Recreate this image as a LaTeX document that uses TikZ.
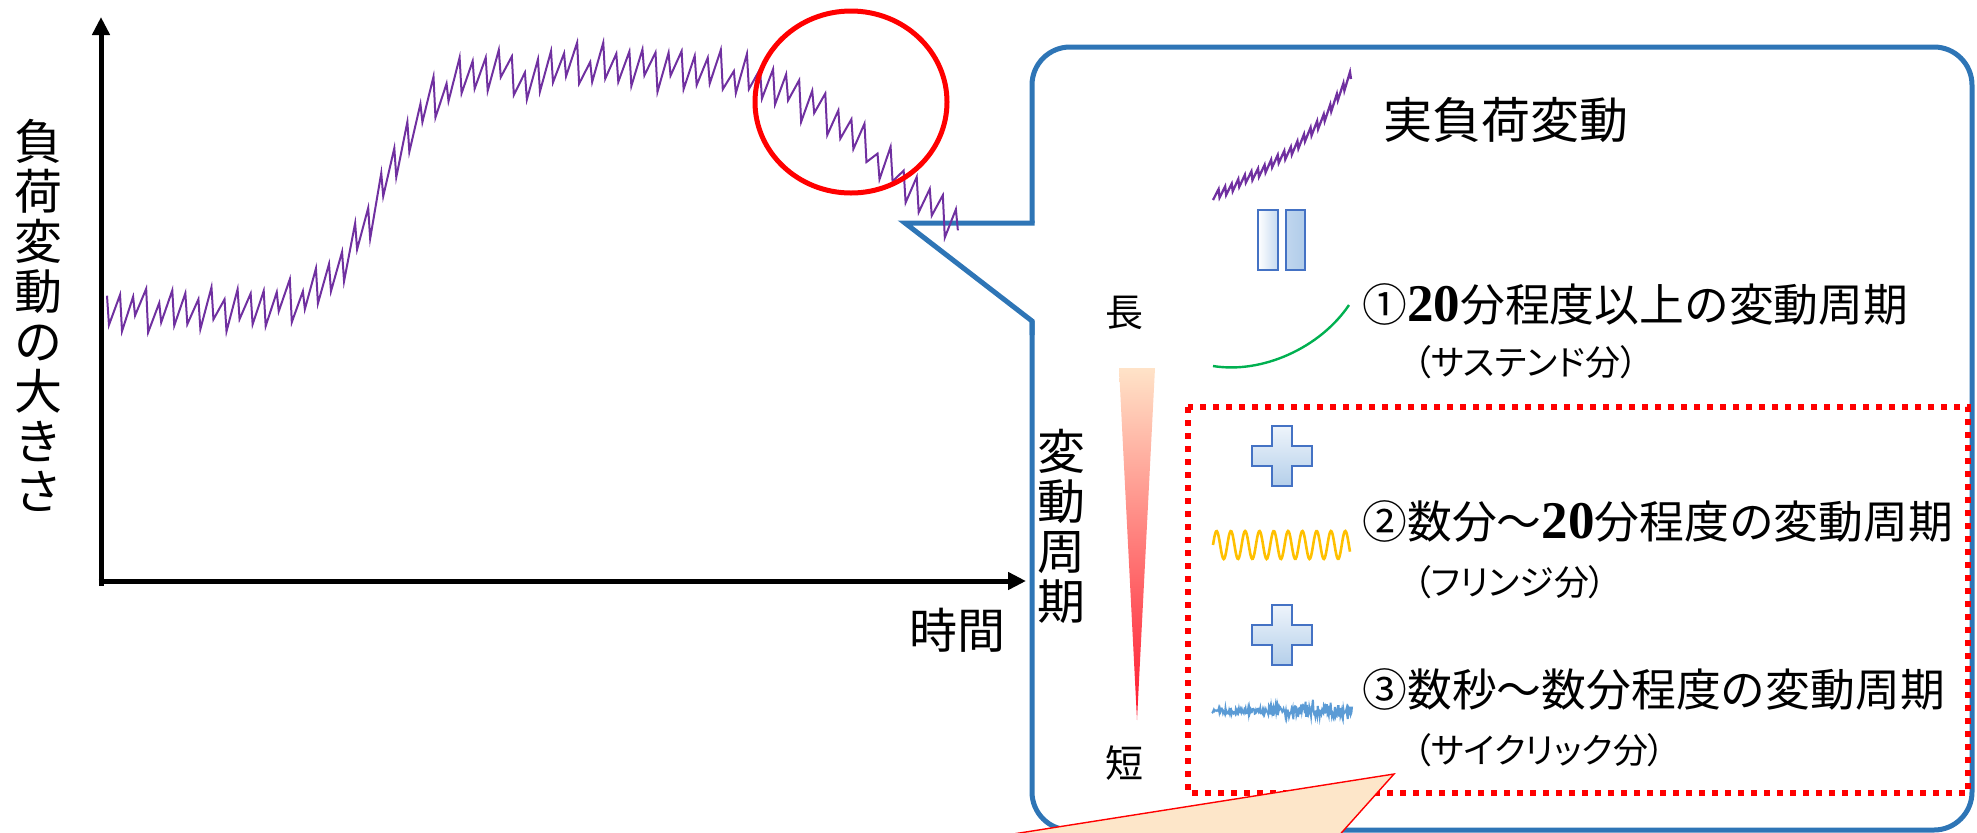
\documentclass[tikz,border=0pt]{standalone}
\usepackage{fontspec}
\setmainfont{Noto Sans CJK JP}
\newfontfamily\numfont{Liberation Serif}
\newfontfamily\jpp{Noto Sans CJK JP}[RawFeature=+palt]
\usetikzlibrary{arrows.meta}
\definecolor{boxblue}{RGB}{46,117,182}
\definecolor{loadpurple}{RGB}{112,48,160}
\definecolor{iconedge}{RGB}{68,114,196}
\definecolor{iconlight}{RGB}{238,244,251}
\definecolor{icondark}{RGB}{180,207,234}
\definecolor{eqa}{RGB}{197,217,240}
\definecolor{eqb}{RGB}{192,214,238}
\definecolor{eqc}{RGB}{176,204,233}
\definecolor{peach}{RGB}{253,230,201}
\definecolor{sustgreen}{RGB}{0,176,80}
\definecolor{fringeyellow}{RGB}{255,192,0}
\definecolor{cyclicblue}{RGB}{91,155,213}
\definecolor{gradtop}{RGB}{255,227,200}
\definecolor{gradmid}{RGB}{255,80,126}
\definecolor{gradbot}{RGB}{255,22,44}
\begin{document}
\begin{tikzpicture}[x=0.5pt,y=-0.5pt,
  declare function={
    sg(\z)=1/(1+exp(-max(min(\z,8),-8)));
    base(\x)=310-245*sg((\x-383)/28)+190*sg((\x-880)/50)+25*exp(-min(((\x-528)/10)*((\x-528)/10),9));
    par(\j)=mod(round(\j),2);
    sgn(\j)=1-2*par(\j);
    xz(\j)=95.9+\j*6.53+4.571*par(\j);
    amz(\j)=15*(0.55+0.75*abs(sin(\j*57.3+20)));
    jit(\j)=5*sin(\j*97.3);
    sxz(\j)=1213+\j*3.285+2.3*par(\j);
    st(\j)=(sxz(\j)-1213)/138;
  },
  axisline/.style={line width=2.5pt,-{Triangle[length=9pt,width=8.5pt]}},
  bluebox/.style={draw=boxblue,line width=2.5pt},
  loadline/.style={draw=loadpurple,line width=1pt,line join=miter},
  iconbox/.style={draw=iconedge,line width=1.2pt},
  vtext/.style={inner sep=0pt,align=center,font=\fontsize{24}{25}\selectfont},
  mainline/.style={inner sep=0pt,anchor=west,font=\fontsize{22.4}{24}\selectfont},
  subline/.style={inner sep=0pt,anchor=west,font=\jpp\fontsize{17.5}{19}\selectfont},
  endlabel/.style={inner sep=0pt,font=\fontsize{19}{20}\selectfont},
]
\useasboundingbox (0,0) rectangle (1977,832);

% callout box
\draw[bluebox,rounded corners=19pt] (1032,223) -- (1032,47) -- (1972,47) -- (1972,830) -- (1032,830) -- (1032,321);
\draw[bluebox,line join=miter] (1034.5,223) -- (905,223) -- (1032,321) -- (1032,335);

% red dotted group
\draw[red,line width=3pt,dash pattern=on 3pt off 3.5pt] (1188,407) rectangle (1968,793);

% peach callout
\fill[peach] (975,840) -- (1394,774) -- (1335,840) -- cycle;
\draw[red,line width=0.7pt] (975,840) -- (1394,774) -- (1335,840);

% axes
\coordinate (ybot) at (101,586);
\coordinate (ytop) at (101,17);
\coordinate (xleft) at (98.5,581);
\coordinate (xright) at (1026,581);
\draw[axisline] (ybot) -- (ytop);
\draw[axisline] (xleft) -- (xright);

% load curve
\draw[loadline] plot[domain=1:132,samples=132,variable=\j] ({xz(\j)},{base(xz(\j))+jit(\j)+amz(\j)*sgn(\j)});

% red circle
\draw[red,line width=2.5pt] (851,102) ellipse [x radius=96,y radius=91];

% labels
\node[vtext] (ylabel) at (38,315) {負\\荷\\変\\動\\の\\大\\き\\さ};
\node[inner sep=0pt,font=\fontsize{24}{25}\selectfont] (xlabel) at (957,630) {時間};
\node[vtext] (periodlabel) at (1061,526) {変\\動\\周\\期};
\node[endlabel] (longlabel) at (1124,313) {長};
\node[endlabel] (shortlabel) at (1124,763) {短};

% gradient wedge
\shade[top color=gradtop,middle color=gradmid,bottom color=gradbot] (1119,368) -- (1155,368) -- (1137,720) -- cycle;

% small actual load icon
\draw[loadline,line width=1.15pt] plot[domain=0:42,samples=43,variable=\j] ({sxz(\j)},{197-123*(0.6*st(\j)+0.4*st(\j)*st(\j)*st(\j)*st(\j))+4*sgn(\j)*(0.75+0.5*abs(sin(\j*71)))});

% equals icon
\shadedraw[iconbox,left color=white,right color=eqa] (1258,210) rectangle (1278,270);
\shadedraw[iconbox,left color=eqb,right color=eqc] (1286,210) rectangle (1305,270);

% plus icons
\foreach \cy in {456,635}{
  \shadedraw[iconbox,top color=iconlight,bottom color=icondark]
    (1272,\cy-30) -- (1292,\cy-30) -- (1292,\cy-10) -- (1312,\cy-10) -- (1312,\cy+10) -- (1292,\cy+10)
    -- (1292,\cy+30) -- (1272,\cy+30) -- (1272,\cy+10) -- (1252,\cy+10) -- (1252,\cy-10) -- (1272,\cy-10) -- cycle;
}

% component curves
\draw[sustgreen,line width=1.2pt] (1213,366) .. controls (1262,374) and (1320,348) .. (1349,305);
\draw[fringeyellow,line width=1.3pt] plot[domain=1213:1350,samples=180] (\x,{545-14*sin(25.17*(\x-1213))});
\pgfmathsetseed{7}
\draw[cyclicblue,line width=1pt] plot[domain=1212:1352,samples=230] (\x,{711+(\x<1268?2.8:6.0)*rand+(\x<1268?0:9)*rand*rand*rand});

% texts
\node[inner sep=0pt,anchor=west,font=\fontsize{24.5}{26}\selectfont] (actual) at (1383,120) {実負荷変動};
\node[mainline] (comp1) at (1362,304) {①{\numfont\bfseries\fontsize{26.5}{26}\selectfont 20}分程度以上の変動周期};
\node[subline] (comp1sub) at (1413,362) {（サステンド分）};
\node[mainline] (comp2) at (1362,521) {②数分～{\numfont\bfseries\fontsize{26.5}{26}\selectfont 20}分程度の変動周期};
\node[subline] (comp2sub) at (1413,582) {（フリンジ分）};
\node[mainline] (comp3) at (1362,689) {③数秒～数分程度の変動周期};
\node[subline] (comp3sub) at (1413,750) {（サイクリック分）};
\end{tikzpicture}
\end{document}
